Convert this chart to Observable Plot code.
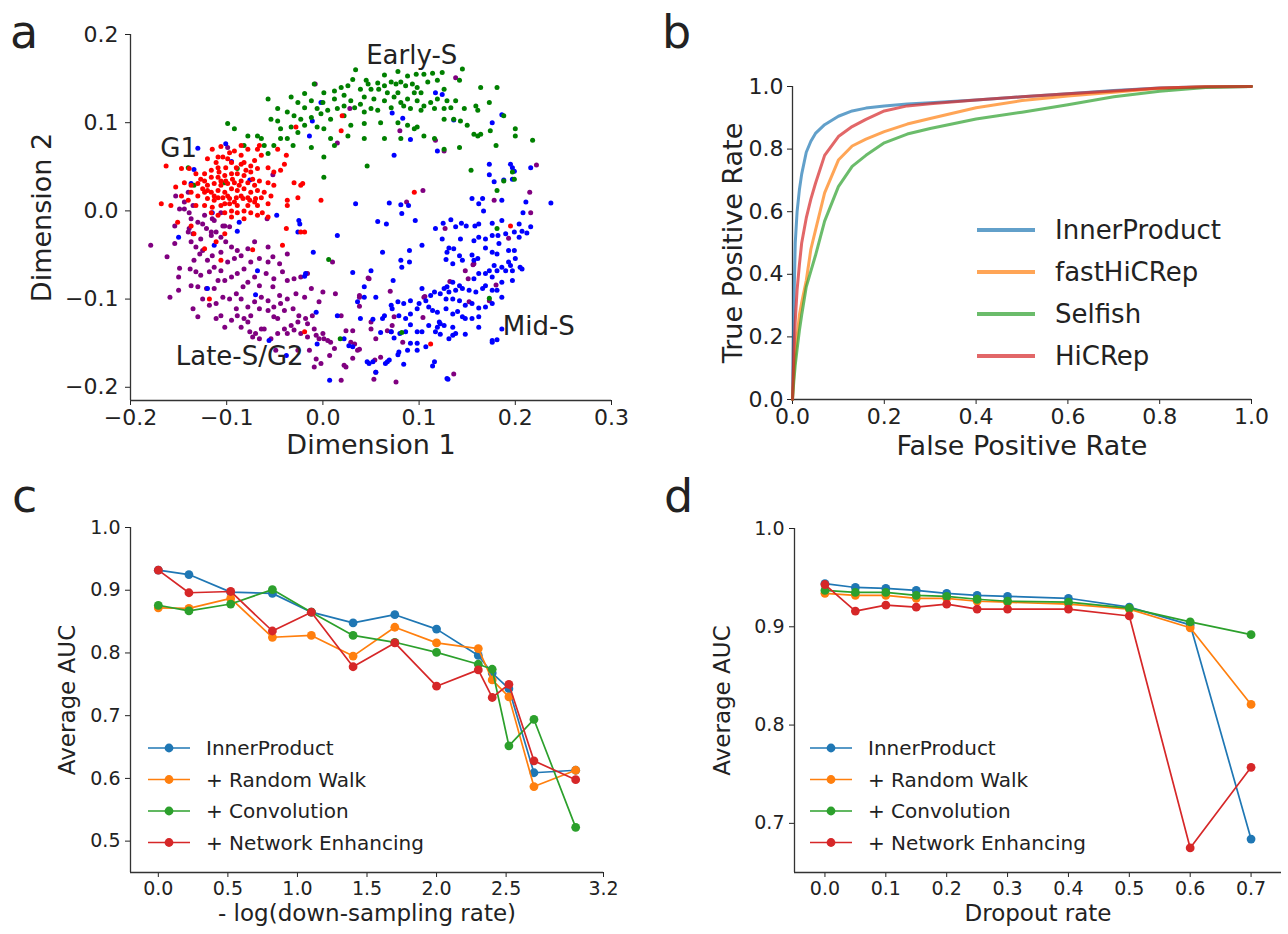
<!DOCTYPE html>
<html><head><meta charset="utf-8">
<script src="https://cdn.jsdelivr.net/npm/d3@7"></script>
<script src="https://cdn.jsdelivr.net/npm/@observablehq/plot@0.6"></script>
<style>
body{margin:0;background:#fff;font-family:"DejaVu Sans",sans-serif;}
#fig{position:relative;width:1288px;height:934px;overflow:hidden;background:#fff;}
</style></head><body><div id="fig"></div>
<script>
// ---------- Panel a: cell embedding (values in thousandths of a unit) ----------
const g1Points = [[-115,70],[-106,73],[-97,66],[-85,74],[-104,61],[-111,55],[-95,55],[-85,63],[-78,70],[-68,70],[-64,63],[-71,57],[-82,55],[-90,49],[-101,49],[-109,49],[-116,46],[-123,42],[-132,42],[-139,48],[-147,48],[-163,51],[-144,32],[-137,29],[-130,31],[-123,34],[-116,38],[-109,38],[-102,40],[-95,42],[-89,42],[-82,40],[-75,44],[-68,48],[-57,49],[-51,44],[-44,46],[-40,53],[-38,63],[-47,70],[-66,74],[-125,25],[-120,29],[-113,31],[-106,29],[-99,31],[-92,32],[-85,34],[-78,32],[-71,29],[-66,34],[-57,32],[-51,29],[-30,32],[-23,29],[-153,27],[-137,21],[-130,17],[-123,21],[-116,21],[-109,23],[-102,21],[-95,25],[-89,23],[-82,25],[-75,21],[-68,23],[-61,21],[-54,17],[-120,14],[-113,12],[-104,15],[-97,14],[-90,15],[-83,14],[-76,12],[-70,14],[-147,17],[-140,12],[-132,6],[-168,8],[-158,6],[-123,6],[-115,4],[-106,6],[-97,8],[-89,6],[-78,6],[-68,6],[-57,8],[-37,12],[-37,6],[-26,15],[-2,12],[19,91],[20,108],[-28,95],[-102,-2],[-89,-2],[-75,-2],[-63,-2],[-109,-5],[-95,-7],[-82,-9],[-68,-5],[-57,-7],[-127,36],[-120,23],[-113,17],[-106,34],[-99,17],[-92,10],[-85,17],[-78,15],[-71,10],[-64,15],[-108,44],[-101,34],[-94,36],[-87,29],[-80,46],[-73,36],[-95,0],[-82,0],[-116,-2],[-102,8],[-109,15],[-75,51],[-85,53],[-99,59],[-109,61],[-120,59],[-92,68],[-151,-13],[-137,-17],[-134,-26],[-123,-43],[-111,-35],[-106,-56],[-118,-100],[-73,-44],[-42,-39],[-38,-20],[-23,-24],[-19,-137],[-102,-26],[95,21],[112,-151],[195,-17],[-21,31],[-19,-24]];
const earlySPoints = [[34,160],[78,158],[97,155],[105,155],[114,156],[124,157],[145,161],[88,153],[64,154],[31,149],[45,148],[47,144],[57,145],[64,142],[71,146],[76,144],[81,146],[86,142],[93,144],[98,140],[109,146],[119,148],[142,148],[126,138],[102,134],[95,134],[78,134],[67,134],[58,138],[50,138],[39,138],[26,142],[19,140],[12,136],[1,134],[-9,144],[-19,133],[0,123],[12,127],[22,131],[29,125],[39,121],[43,129],[53,127],[64,125],[74,129],[81,123],[88,127],[98,125],[105,119],[112,123],[119,127],[129,125],[138,125],[147,116],[159,119],[164,140],[181,140],[173,123],[161,114],[126,116],[133,117],[116,116],[102,114],[91,116],[84,119],[71,117],[57,114],[50,116],[43,112],[33,117],[22,119],[15,116],[5,114],[-6,116],[-12,125],[-26,123],[-19,117],[-57,127],[-33,129],[-47,116],[-37,112],[-30,108],[-23,104],[-12,106],[-2,110],[8,104],[22,108],[29,97],[43,99],[60,100],[78,100],[88,97],[98,95],[126,104],[136,104],[143,102],[150,97],[164,87],[174,91],[188,108],[200,93],[200,85],[-54,104],[-47,102],[-44,93],[-33,95],[-26,89],[-19,97],[-6,95],[1,93],[8,82],[12,74],[26,85],[43,82],[64,82],[81,82],[95,93],[105,85],[116,82],[126,70],[142,72],[157,87],[161,85],[180,74],[218,80],[-99,99],[-92,93],[-78,85],[-68,85],[-82,74],[-64,82],[-61,74],[-57,65],[-51,74],[-44,82],[-37,82],[-31,74],[-12,72],[1,61],[1,38],[46,51],[154,46],[197,44],[181,23],[199,36],[188,34],[-102,32],[-140,49],[-89,48],[181,-20],[173,-99],[82,-138],[6,-55],[18,-145],[-134,29]];
const lateSPoints = [[-179,-39],[-162,-52],[-154,-37],[-149,-65],[-150,-75],[-150,-90],[-159,-98],[-139,-20],[-135,-26],[-137,-35],[-132,-41],[-127,-32],[-125,-45],[-121,-20],[-116,-28],[-111,-24],[-106,-30],[-101,-35],[-95,-41],[-102,-17],[-97,-18],[-106,-47],[-115,-51],[-120,-56],[-128,-49],[-134,-56],[-138,-66],[-132,-69],[-127,-73],[-118,-69],[-113,-64],[-106,-68],[-99,-58],[-92,-54],[-85,-51],[-89,-45],[-78,-43],[-71,-35],[-57,-41],[-52,-52],[-45,-60],[-37,-49],[-42,-69],[-51,-77],[-57,-58],[-66,-54],[-75,-58],[-82,-66],[-89,-71],[-95,-75],[-102,-79],[-109,-79],[-113,-88],[-121,-88],[-130,-86],[-137,-85],[-125,-100],[-118,-107],[-111,-105],[-104,-98],[-97,-100],[-90,-94],[-83,-86],[-78,-81],[-71,-75],[-66,-85],[-59,-71],[-52,-86],[-45,-96],[-37,-79],[-30,-77],[-23,-75],[-16,-71],[-12,-88],[-19,-98],[-28,-94],[-37,-100],[-44,-105],[-51,-109],[-57,-102],[-64,-98],[-71,-103],[-78,-109],[-85,-100],[-89,-119],[-82,-122],[-95,-124],[-106,-119],[-111,-122],[-130,-120],[-135,-111],[-102,-132],[-90,-111],[-75,-119],[-66,-111],[-57,-113],[-51,-120],[-40,-113],[-31,-111],[-25,-119],[-18,-122],[-11,-119],[-4,-103],[0,-92],[-9,-134],[-16,-128],[-26,-126],[-33,-130],[-40,-134],[-47,-139],[-54,-145],[-61,-134],[-70,-139],[-76,-137],[-73,-143],[-64,-134],[-47,-122],[-37,-139],[-30,-135],[-23,-139],[-16,-143],[-7,-141],[0,-139],[5,-147],[12,-156],[10,-58],[13,-94],[19,-119],[22,-175],[19,-192],[-9,-177],[-2,-173],[7,-164],[-7,-168],[-14,-158],[-26,-158],[-49,-158],[1,-145],[-66,-145],[-85,-132],[-78,-126],[-154,-17],[-149,2],[-144,10],[-139,-2],[-137,-9],[-130,-13],[-140,-24],[-125,-15],[-116,-24],[-113,-11],[-104,-17],[-106,-2],[138,151],[80,91],[117,80],[126,68],[104,23],[87,10],[178,12],[222,52],[216,-2],[157,-60],[173,-102],[136,-185],[105,-98],[76,-194],[71,-137],[8,-149],[29,-149],[36,-158],[24,-177],[48,-77],[38,-98],[50,-134],[-4,-145],[127,-20],[193,-31],[156,-61],[148,-68],[151,-77],[132,-80],[180,-84],[152,-103],[106,-97],[104,-121],[70,-91],[47,-76],[38,-96],[38,-108],[24,-136],[31,-136],[33,-151],[38,-157],[31,-167],[50,-126],[55,-145],[60,-166],[54,-169],[67,-136],[72,-130],[74,-120],[83,-149],[55,-183],[53,-191],[-153,17],[-140,21],[-144,2],[-135,6],[-123,-5],[-115,-9],[-99,72],[-52,41],[-58,-9],[15,77],[-8,144],[28,116],[215,21]];
const midSPoints = [[57,-12],[66,-15],[96,-11],[117,-20],[125,-14],[133,-10],[138,-18],[144,-14],[149,-17],[158,-17],[162,-15],[176,-14],[186,-11],[204,-15],[216,-18],[212,-25],[207,-23],[204,-30],[199,-24],[190,-26],[182,-28],[176,-28],[169,-32],[162,-30],[157,-34],[143,-32],[124,-32],[131,-42],[129,-47],[136,-43],[142,-51],[128,-55],[135,-60],[145,-56],[155,-50],[157,-56],[161,-54],[169,-42],[176,-47],[183,-37],[181,-49],[193,-45],[199,-45],[200,-54],[193,-58],[186,-64],[178,-62],[173,-68],[181,-68],[190,-68],[197,-68],[195,-62],[205,-64],[207,-66],[197,-79],[186,-81],[176,-75],[169,-71],[162,-71],[157,-77],[142,-85],[135,-81],[129,-86],[126,-88],[131,-92],[138,-90],[145,-88],[152,-90],[159,-92],[166,-88],[169,-85],[176,-90],[181,-90],[186,-98],[176,-105],[169,-109],[162,-110],[155,-105],[148,-107],[142,-102],[135,-100],[128,-100],[122,-94],[116,-92],[112,-96],[107,-102],[100,-105],[91,-102],[84,-105],[78,-103],[71,-107],[72,-111],[79,-119],[86,-122],[91,-117],[98,-111],[103,-88],[110,-109],[114,-113],[119,-115],[128,-111],[135,-117],[140,-114],[145,-120],[148,-122],[155,-122],[162,-120],[121,-126],[126,-130],[119,-132],[135,-132],[148,-140],[135,-141],[131,-145],[122,-140],[110,-130],[103,-137],[98,-137],[91,-129],[86,-137],[80,-139],[74,-144],[71,-137],[60,-138],[62,-122],[52,-123],[39,-122],[43,-86],[36,-103],[31,-70],[50,-68],[62,-47],[90,-45],[103,-39],[90,-58],[82,-64],[73,-79],[91,-150],[98,-150],[107,-154],[88,-158],[79,-160],[78,-163],[69,-169],[65,-173],[52,-171],[48,-173],[84,-174],[116,-171],[114,-176],[130,-191],[162,-132],[176,-149],[181,-146],[186,-134],[117,134],[124,132],[72,111],[83,105],[91,81],[74,63],[119,68],[136,103],[176,100],[186,109],[173,53],[173,41],[178,33],[195,53],[197,49],[199,45],[197,36],[216,49],[188,35],[186,12],[166,14],[155,14],[162,8],[167,0],[34,8],[69,9],[81,7],[89,6],[82,-3],[211,10],[208,-2],[237,9],[-150,-30],[-113,-39],[-89,-23],[-87,-13],[-26,-24],[-25,-11],[-24,-15],[-10,-47],[15,-28],[-68,-68],[-19,-74],[-18,-71],[-120,-88],[-70,-95],[-7,-115],[15,-119],[-6,-151],[-56,-147],[22,-145],[27,-153],[7,-192],[-38,-164],[-130,71],[-134,47],[-101,76],[-95,56],[-76,35],[-137,31],[-2,123],[-14,85],[-11,102],[-48,-5],[-115,-2],[31,-154],[46,-171],[55,-183],[67,-171],[98,-158],[117,-137],[129,-190],[176,-147],[138,-139],[122,-128],[43,-98],[55,-98],[64,-119],[81,-56]];
const phaseColors = ["purple","blue","green","red"];
const phaseLabelText = ["Early-S","G1","Late-S/G2","Mid-S"];
const phaseLabelX = [0.045,-0.169,-0.153,0.187];
const phaseLabelY = [0.1755,0.070,-0.165,-0.131];
const aXTicks = [-0.2,-0.1,0.0,0.1,0.2,0.3];
const aYTicks = [-0.2,-0.1,0.0,0.1,0.2];

// ---------- Panel b: ROC curves ----------
const rocMethods = ["InnerProduct","fastHiCRep","Selfish","HiCRep"];
const fpr = [0,0.003,0.006,0.01,0.015,0.02,0.03,0.04,0.05,0.07,0.1,0.13,0.16,0.2,0.25,0.3,0.4,0.5,0.6,0.7,0.8,0.9,1.0];
const tprInnerProduct = [0,0.30,0.50,0.60,0.67,0.72,0.79,0.825,0.85,0.878,0.905,0.922,0.931,0.938,0.944,0.948,0.957,0.967,0.977,0.987,0.995,0.999,1.0];
const tprFastHiCRep  = [0,0.08,0.14,0.20,0.27,0.31,0.38,0.48,0.54,0.66,0.765,0.81,0.832,0.856,0.88,0.898,0.932,0.955,0.97,0.982,0.994,0.999,1.0];
const tprSelfish     = [0,0.06,0.11,0.16,0.22,0.27,0.36,0.41,0.46,0.57,0.68,0.745,0.78,0.82,0.848,0.866,0.896,0.918,0.942,0.967,0.985,0.997,1.0];
const tprHiCRep      = [0,0.15,0.25,0.35,0.43,0.50,0.58,0.64,0.69,0.78,0.84,0.872,0.895,0.922,0.938,0.945,0.957,0.967,0.977,0.986,0.995,0.999,1.0];
const bTicks = [0,0.2,0.4,0.6,0.8,1.0];

// ---------- Panels c, d: average AUC ----------
const cdMethods = ["InnerProduct","+ Random Walk","+ Convolution","+ Network Enhancing"];
const downRates = [0,0.22,0.52,0.82,1.1,1.4,1.7,2.0,2.3,2.4,2.52,2.7,3.0];
const cInnerProduct = [0.932,0.925,0.897,0.895,0.865,0.848,0.861,0.838,0.796,0.768,0.743,0.609,0.613];
const cRandomWalk   = [0.872,0.871,0.887,0.825,0.828,0.795,0.841,0.816,0.807,0.757,0.730,0.587,0.613];
const cConvolution  = [0.876,0.867,0.878,0.901,0.865,0.828,0.817,0.801,0.782,0.774,0.652,0.694,0.522];
const cNetwork      = [0.932,0.896,0.898,0.835,0.865,0.778,0.816,0.747,0.773,0.729,0.750,0.628,0.598];
const cXTicks = [0,0.5,1.0,1.5,2.0,2.5,3.2];
const cYTicks = [0.5,0.6,0.7,0.8,0.9,1.0];
const dropRates = [0,0.05,0.1,0.15,0.2,0.25,0.3,0.4,0.5,0.6,0.7];
const dInnerProduct = [0.944,0.940,0.939,0.937,0.934,0.932,0.931,0.929,0.920,0.902,0.684];
const dRandomWalk   = [0.934,0.932,0.932,0.929,0.929,0.926,0.925,0.923,0.918,0.899,0.821];
const dConvolution  = [0.937,0.935,0.935,0.932,0.931,0.928,0.926,0.925,0.919,0.905,0.892];
const dNetwork      = [0.943,0.916,0.922,0.920,0.923,0.918,0.918,0.918,0.911,0.675,0.757];
const dXTicks = [0,0.1,0.2,0.3,0.4,0.5,0.6,0.7];
const dYTicks = [0.7,0.8,0.9,1.0];

const tab = ["#1f77b4","#ff7f0e","#2ca02c","#d62728"];
const FONT = "DejaVu Sans";
const INK = "#222";
const SPINE = "#333";
const f1 = d3.format(".1f");
const fig = document.getElementById("fig");
function place(el, left, top){ el.style.position="absolute"; el.style.left=left+"px"; el.style.top=top+"px"; fig.appendChild(el); }
const baseStyle = (fs)=>({fontFamily:FONT,fontSize:fs+"px",color:INK,background:"transparent",overflow:"visible"});
const xLabel = (t,dy,fs)=>Plot.text([t],{text:d=>d,frameAnchor:"bottom",lineAnchor:"middle",textAnchor:"middle",dy,fontSize:fs,fill:INK});
const yLabel = (t,dx,fs)=>Plot.text([t],{text:d=>d,frameAnchor:"left",lineAnchor:"middle",textAnchor:"middle",dx,rotate:-90,fontSize:fs,fill:INK});

// ---------- a ----------
const aX=[-0.2,0.3], aY=[-0.215,0.2];
const phaseSets = [lateSPoints, midSPoints, earlySPoints, g1Points];
const labels = phaseLabelText.map((t,i)=>({t, x:phaseLabelX[i], y:phaseLabelY[i]}));
const plotA = Plot.plot({
  width:640,height:470,marginLeft:130,marginRight:29,marginTop:34,marginBottom:70,
  style:baseStyle(22),
  x:{domain:aX,ticks:aXTicks,tickFormat:f1,tickSize:5,tickPadding:4,label:null},
  y:{domain:aY,ticks:aYTicks,tickFormat:f1,tickSize:5,tickPadding:7,label:null},
  marks:[
    Plot.ruleX([aX[0]],{stroke:SPINE,strokeWidth:1.3}),
    Plot.ruleY([aY[0]],{stroke:SPINE,strokeWidth:1.3}),
    ...phaseSets.map((pts,i)=>Plot.dot(pts.map(([x,y])=>({x:x/1000,y:y/1000})),{x:"x",y:"y",r:2.5,fill:phaseColors[i],stroke:"none"})),
    Plot.text(labels,{x:"x",y:"y",text:"t",textAnchor:"start",lineAnchor:"middle",fontSize:26,fill:INK}),
    xLabel("Dimension 1",45,27),
    yLabel("Dimension 2",-88,27)
  ]
});
place(plotA,0,0);

// ---------- b ----------
const tprs=[tprInnerProduct,tprFastHiCRep,tprSelfish,tprHiCRep];
const plotB = Plot.plot({
  width:648,height:470,marginLeft:152,marginRight:37,marginTop:86,marginBottom:71,
  style:baseStyle(22),
  x:{domain:[0,1],ticks:bTicks,tickFormat:f1,tickSize:5,tickPadding:4,label:null},
  y:{domain:[0,1],ticks:bTicks,tickFormat:f1,tickSize:5,tickPadding:4,label:null},
  marks:[
    Plot.ruleX([0],{stroke:SPINE,strokeWidth:1.3}),
    Plot.ruleY([0],{stroke:SPINE,strokeWidth:1.3}),
    ...tprs.map((t,i)=>Plot.line(fpr.map((x,j)=>({x,y:t[j]})),{x:"x",y:"y",stroke:tab[i],strokeWidth:3,strokeOpacity:0.7})),
    xLabel("False Positive Rate",47,27),
    yLabel("True Positive Rate",-59,27)
  ]
});
place(plotB,640,0);

// ---------- c, d ----------
function aucPanel(xs, series, xDom, yDom, xT, yT, m, xlabel, ylabelDx, w){
  const marks=[Plot.ruleX([xDom[0]],{stroke:SPINE,strokeWidth:1.3}),Plot.ruleY([yDom[0]],{stroke:SPINE,strokeWidth:1.3})];
  series.forEach((s,i)=>{
    const rows=xs.map((x,j)=>({x,y:s[j]}));
    marks.push(Plot.line(rows,{x:"x",y:"y",stroke:tab[i],strokeWidth:1.7}));
    marks.push(Plot.dot(rows,{x:"x",y:"y",r:4.4,fill:tab[i],stroke:"none"}));
  });
  marks.push(xLabel(xlabel,41,23));
  marks.push(yLabel("Average AUC",ylabelDx,23));
  return Plot.plot({
    width:w,height:464,marginLeft:m[0],marginRight:m[1],marginTop:m[2],marginBottom:m[3],
    style:baseStyle(19),
    x:{domain:xDom,ticks:xT,tickFormat:f1,tickSize:5,tickPadding:4,label:null},
    y:{domain:yDom,ticks:yT,tickFormat:f1,tickSize:5,tickPadding:5,label:null},
    marks
  });
}
const plotC = aucPanel(downRates,[cInnerProduct,cRandomWalk,cConvolution,cNetwork],[-0.2,3.2],[0.45,1.0],cXTicks,cYTicks,[130,37,57,62],"- log(down-sampling rate)",-63,640);
place(plotC,0,470);
const plotD = aucPanel(dropRates,[dInnerProduct,dRandomWalk,dConvolution,dNetwork],[-0.05,0.75],[0.65,1.0],dXTicks,dYTicks,[154,7,58,62],"Dropout rate",-72,648);
place(plotD,640,470);

// ---------- overlay: panel letters and legends ----------
const ov = d3.create("svg").attr("width",1288).attr("height",934)
  .style("position","absolute").style("left","0px").style("top","0px")
  .style("font-family",FONT).style("pointer-events","none");
[["a",10,48],["b",662,48],["c",12,512],["d",664,512]].forEach(([t,x,y])=>
  ov.append("text").attr("x",x).attr("y",y).attr("font-size",46).attr("fill",INK).text(t));
rocMethods.forEach((m,i)=>{
  const y=230+i*42;
  ov.append("line").attr("x1",977).attr("x2",1035).attr("y1",y).attr("y2",y)
    .attr("stroke",tab[i]).attr("stroke-width",4).attr("stroke-opacity",0.7);
  ov.append("text").attr("x",1055).attr("y",y).attr("dy","0.35em").attr("font-size",26).attr("fill",INK).text(m);
});
[[148,190,206],[810,852,868]].forEach(([x1,x2,tx])=>{
  cdMethods.forEach((m,i)=>{
    const y=748+i*31.5;
    ov.append("line").attr("x1",x1).attr("x2",x2).attr("y1",y).attr("y2",y).attr("stroke",tab[i]).attr("stroke-width",1.7);
    ov.append("circle").attr("cx",(x1+x2)/2).attr("cy",y).attr("r",4.4).attr("fill",tab[i]);
    ov.append("text").attr("x",tx).attr("y",y).attr("dy","0.35em").attr("font-size",20).attr("fill",INK).text(m);
  });
});
fig.appendChild(ov.node());
</script></body></html>
